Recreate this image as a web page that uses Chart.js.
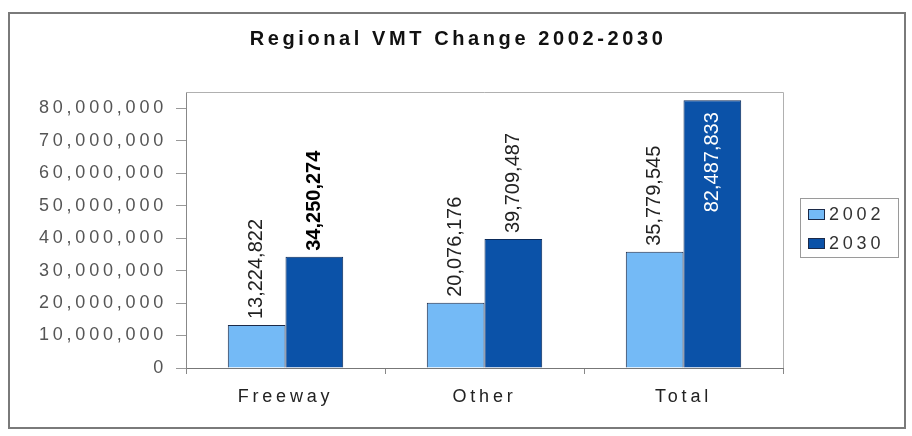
<!DOCTYPE html>
<html>
<head>
<meta charset="utf-8">
<script src="https://cdn.jsdelivr.net/npm/chart.js@4.4.1/dist/chart.umd.min.js"></script>
<style>
  html, body { margin: 0; padding: 0; background: #ffffff; }
  #wrap { width: 912px; height: 436px; position: relative; }
</style>
</head>
<body>
<div id="wrap"><canvas id="c" width="912" height="436"></canvas></div>
<script>
const titleText = 'Regional VMT Change 2002-2030';
const categories = ['Freeway', 'Other', 'Total'];
const seriesNames = ['2002', '2030'];
const values2002 = [13224822, 20076176, 35779545];
const values2030 = [34250274, 39709487, 82487833];
const yTickValues = [0, 10000000, 20000000, 30000000, 40000000, 50000000, 60000000, 70000000, 80000000];
const yMax = 85000000;

const colors = ['#74baf6', '#0b52a8'];
const SPACING = '3.8px';

const framePlugin = {
  id: 'frame',
  beforeDraw(chart) {
    const ctx = chart.ctx;
    ctx.save();
    ctx.fillStyle = '#ffffff';
    ctx.fillRect(0, 0, chart.width, chart.height);
    ctx.strokeStyle = '#7a7a7a';
    ctx.lineWidth = 2;
    ctx.strokeRect(9, 13, 896, 415);
    ctx.restore();
    ctx.letterSpacing = SPACING;
  },
  beforeDatasetsDraw(chart) {
    const ctx = chart.ctx;
    const a = chart.chartArea;
    ctx.save();
    ctx.strokeStyle = '#b0b0b0';
    ctx.lineWidth = 1;
    ctx.beginPath();
    ctx.moveTo(a.left, a.top + 0.5);
    ctx.lineTo(a.right + 0.5, a.top + 0.5);
    ctx.lineTo(a.right + 0.5, a.bottom);
    ctx.stroke();
    ctx.restore();
  },
  afterDraw(chart) {
    const ctx = chart.ctx;
    ctx.save();
    // title
    ctx.letterSpacing = '3.6px';
    ctx.font = 'bold 20px Arial, "Liberation Sans", sans-serif';
    ctx.fillStyle = '#111';
    ctx.textAlign = 'center';
    ctx.textBaseline = 'middle';
    ctx.fillText(titleText, 458, 39);

    // data labels
    ctx.letterSpacing = '0px';
    chart.data.datasets.forEach((ds, di) => {
      const meta = chart.getDatasetMeta(di);
      meta.data.forEach((bar, i) => {
        const v = ds.data[i];
        const txt = v.toLocaleString('en-US');
        ctx.save();
        const inside = (di === 1 && i === 2);
        const bold = (di === 1 && i === 0);
        ctx.font = (bold ? 'bold ' : '') + '20px Arial, "Liberation Sans", sans-serif';
        ctx.fillStyle = inside ? '#ffffff' : (bold ? '#000' : '#222');
        ctx.translate(bar.x, bar.y);
        ctx.rotate(-Math.PI / 2);
        ctx.textBaseline = 'middle';
        if (inside) {
          ctx.textAlign = 'right';
          ctx.fillText(txt, -12, 0);
        } else {
          ctx.textAlign = 'left';
          ctx.fillText(txt, 6, 0);
        }
        ctx.restore();
      });
    });

    // legend
    ctx.letterSpacing = SPACING;
    ctx.strokeStyle = '#9a9a9a';
    ctx.lineWidth = 1;
    ctx.strokeRect(800.5, 198.5, 98, 59);
    ctx.font = '18px Arial, "Liberation Sans", sans-serif';
    ctx.textAlign = 'left';
    ctx.textBaseline = 'middle';
    chart.data.datasets.forEach((ds, di) => {
      const cy = 214 + di * 29;
      ctx.fillStyle = ds.backgroundColor;
      ctx.fillRect(808, cy - 5, 17, 11);
      ctx.strokeStyle = '#1c2a48';
      ctx.strokeRect(808.5, cy - 4.5, 16, 10);
      ctx.fillStyle = '#333';
      ctx.fillText(ds.label, 829, cy + 1);
    });
    ctx.restore();
  }
};

new Chart(document.getElementById('c'), {
  type: 'bar',
  data: {
    labels: categories,
    datasets: [
      { label: seriesNames[0], data: values2002, backgroundColor: colors[0], borderColor: '#1c2a48', borderWidth: 1,
        barPercentage: 1, categoryPercentage: 0.58 },
      { label: seriesNames[1], data: values2030, backgroundColor: colors[1], borderColor: '#0a2a5a', borderWidth: 1,
        barPercentage: 1, categoryPercentage: 0.58 }
    ]
  },
  options: {
    responsive: false,
    animation: false,
    events: [],
    layout: { padding: { top: 92, left: 0, right: 129, bottom: 0 } },
    plugins: { legend: { display: false }, title: { display: false }, tooltip: { enabled: false } },
    scales: {
      x: {
        afterFit(scale) { scale.height = 68; },
        grid: { display: true, drawOnChartArea: false, drawTicks: true, tickLength: 6, color: '#888', offset: true },
        border: { display: true, color: '#777', width: 1 },
        ticks: { color: '#222', padding: 12, font: { family: 'Arial, "Liberation Sans", sans-serif', size: 18 } }
      },
      y: {
        min: 0,
        max: yMax,
        afterFit(scale) { scale.width = 186; },
        afterBuildTicks(scale) { scale.ticks = yTickValues.map(v => ({ value: v })); },
        grid: { display: true, drawOnChartArea: false, drawTicks: true, tickLength: 10, color: '#999' },
        border: { display: true, color: '#888', width: 1 },
        ticks: {
          color: '#555', padding: 9,
          font: { family: 'Arial, "Liberation Sans", sans-serif', size: 18 },
          callback: (v) => Number(v).toLocaleString('en-US')
        }
      }
    }
  },
  plugins: [framePlugin]
});
</script>
</body>
</html>
